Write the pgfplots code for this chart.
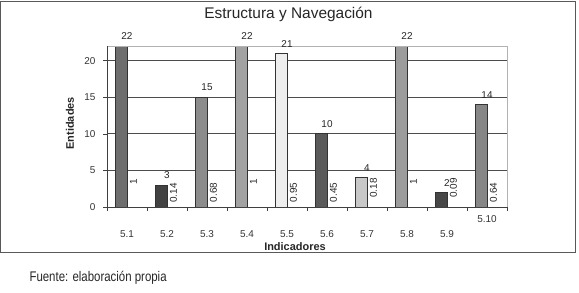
\documentclass[border=0pt]{standalone}
\usepackage{fontspec}
\setmainfont{Liberation Sans}
\usepackage{graphicx}
\usepackage{pgfplots}
\pgfplotsset{compat=1.18}
\definecolor{ca}{HTML}{6E6E6E}
\definecolor{cb}{HTML}{424242}
\definecolor{cc}{HTML}{8C8C8C}
\definecolor{cd}{HTML}{A2A2A2}
\definecolor{ce}{HTML}{EEEEEE}
\definecolor{cf}{HTML}{5A5A5A}
\definecolor{cg}{HTML}{C8C8C8}
\definecolor{ch}{HTML}{9C9C9C}
\definecolor{ci}{HTML}{474747}
\definecolor{cj}{HTML}{868686}
\begin{document}
\begin{tikzpicture}
\path[use as bounding box] (0,0) rectangle (579bp,293bp);
\draw[black!65, line width=1bp] (0.5bp,40bp) rectangle (575bp,291.5bp);
\node[font=\fontsize{15.5}{18}\selectfont, text=black!85] at (288.5bp,279bp) {Estructura y Navegación};
\node[anchor=west, text=black!85] at (26bp,15bp) {\scalebox{0.82}[1]{\fontsize{14}{16}\selectfont Fuente: elaboración propia}};
\begin{axis}[
  at={(107bp,86bp)}, anchor=south west, scale only axis,
  width=400bp, height=161bp,
  xmin=-0.5, xmax=9.5, ymin=0, ymax=22,
  ytick={0,5,10,15,20},
  xtick={0,1,2,3,4,5,6,7,8},
  xticklabels={5.1,5.2,5.3,5.4,5.5,5.6,5.7,5.8,5.9},
  extra x ticks={9}, extra x tick labels={5.10},
  extra x tick style={major tick length=0pt, xticklabel style={yshift=11bp}},
  minor xtick={-0.5,0.5,...,9.5},
  tick pos=left, tick align=outside,
  major tick length=4bp, minor tick length=4bp,
  major x tick style={draw=none},
  tick style={black!75, line width=0.6bp},
  ymajorgrids, grid style={black!70, line width=0.8bp},
  axis line style={draw=none},
  clip=false,
  ticklabel style={font=\fontsize{10}{11}\selectfont, text=black!80},
  xticklabel style={yshift=-16bp},
  yticklabel style={xshift=-4bp},
  /pgf/number format/assume math mode=true,
  xlabel={Indicadores}, ylabel={Entidades},
  label style={font=\bfseries\fontsize{11}{13}\selectfont, text=black!85},
  xlabel style={at={(axis description cs:0.47,-0.248)}, anchor=center},
  ylabel style={at={(axis description cs:-0.0925,0.52)}, anchor=center},
  mybar/.style={ybar, bar width=12bp, bar shift=-6bp, draw=black!80, line width=0.7bp,
    nodes near coords, nodes near coords style={font=\fontsize{10}{11}\selectfont, text=black!85, yshift=2.5bp}},
]
\addplot[mybar, fill=ca] coordinates {(0,22)};
\addplot[mybar, fill=cb] coordinates {(1,3)};
\addplot[mybar, fill=cc] coordinates {(2,15)};
\addplot[mybar, fill=cd] coordinates {(3,22)};
\addplot[mybar, fill=ce] coordinates {(4,21)};
\addplot[mybar, fill=cf] coordinates {(5,10)};
\addplot[mybar, fill=cg] coordinates {(6,4)};
\addplot[mybar, fill=ch] coordinates {(7,22)};
\addplot[mybar, fill=ci] coordinates {(8,2)};
\addplot[mybar, fill=cj] coordinates {(9,14)};
\addplot[only marks, mark=*, mark size=0pt, mark options={draw=none, fill=none},
  nodes near coords, point meta=explicit symbolic,
  nodes near coords style={rotate=90, anchor=center, inner sep=0pt, font=\fontsize{10}{11}\selectfont, text=black!85}]
  table[x=x, y=y, meta=lab] {
x y lab
0.16 3.4 1
1.16 1.9 0.14
2.16 2.0 0.68
3.16 3.4 1
4.16 2.0 0.95
5.16 2.0 0.45
6.16 2.6 0.18
7.16 3.4 1
8.16 2.6 0.09
9.16 2.0 0.64
};
\draw[black!30, line width=0.8bp] (rel axis cs:0,1) -- (rel axis cs:1,1) -- (rel axis cs:1,0);
\draw[black!75, line width=0.8bp] (rel axis cs:0,1) -- (rel axis cs:0,0) -- (rel axis cs:1,0);
\end{axis}
\end{tikzpicture}
\end{document}
